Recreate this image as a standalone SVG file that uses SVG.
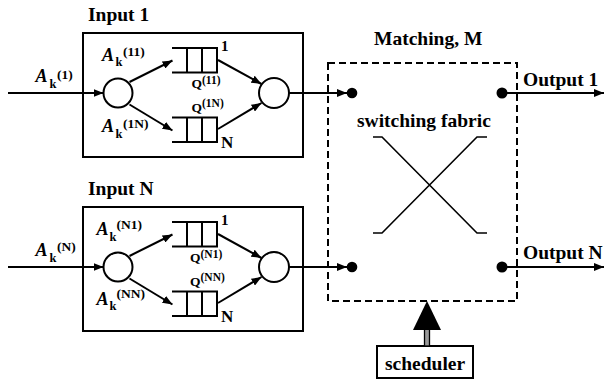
<svg xmlns="http://www.w3.org/2000/svg" width="604" height="383" viewBox="0 0 604 383">
<defs>
<style>
text{font-family:"Liberation Serif","Times New Roman",serif;font-weight:bold;fill:#000}
.t{font-size:19.5px}
.a{font-size:18px;font-style:italic}
.k{font-size:12.5px}
.s{font-size:13.5px}
.q{font-size:13.5px}
.qs{font-size:11.5px}
.n1{font-size:15px}
.nn{font-size:17px}
.box{fill:none;stroke:#000;stroke-width:2}
.ln{fill:none;stroke:#000;stroke-width:2}
.circ{fill:#fff;stroke:#000;stroke-width:2}
.dash{fill:none;stroke:#000;stroke-width:2;stroke-dasharray:7 4}
.arr{fill:none;stroke:#000;stroke-width:2;marker-end:url(#ah)}
</style>
<marker id="ah" viewBox="0 0 10 8" refX="10" refY="4" markerWidth="10" markerHeight="8" markerUnits="userSpaceOnUse" orient="auto">
<path d="M0,0 L10,4 L0,8 z" fill="#000"/>
</marker>
<g id="queue">
<path class="ln" d="M172,48 H218 M172,72.5 H218 M187,48 V72.5 M202,48 V72.5 M217,48 V72.5"/>
</g>
</defs>
<rect width="604" height="383" fill="#fff"/>

<g id="input1">
<text class="t" x="88" y="21">Input 1</text>
<rect class="box" x="83" y="33" width="220" height="124"/>
<circle class="circ" cx="118" cy="93" r="14.5"/>
<circle class="circ" cx="274" cy="93" r="15"/>
<use href="#queue"/>
<use href="#queue" y="69.5"/>
<text class="n1" x="221" y="50.5">1</text>
<text class="nn" x="221" y="148">N</text>
<text><tspan class="a" x="102" y="60.5">A</tspan><tspan class="k" x="115.5" y="65.5">k</tspan><tspan class="s" x="123" y="55.5">(11)</tspan></text>
<text><tspan class="a" x="102" y="131.5">A</tspan><tspan class="k" x="115.5" y="137.5">k</tspan><tspan class="s" x="123" y="128">(1N)</tspan></text>
<text><tspan class="q" x="191.5" y="88">Q</tspan><tspan class="qs" x="202" y="83.5">(11)</tspan></text>
<text><tspan class="q" x="191.5" y="111.5">Q</tspan><tspan class="qs" x="202" y="107">(1N)</tspan></text>
</g>

<g id="inputN">
<text class="t" x="88" y="195">Input N</text>
<rect class="box" x="83" y="207" width="220" height="124"/>
<circle class="circ" cx="118" cy="267" r="14.5"/>
<circle class="circ" cx="274" cy="267" r="15"/>
<use href="#queue" y="174"/>
<use href="#queue" y="243.5"/>
<text class="n1" x="221" y="224.5">1</text>
<text class="nn" x="221" y="322">N</text>
<text><tspan class="a" x="96.5" y="235">A</tspan><tspan class="k" x="109.5" y="240.5">k</tspan><tspan class="s" x="116.5" y="228.5">(N1)</tspan></text>
<text><tspan class="a" x="96.5" y="304.5">A</tspan><tspan class="k" x="109.5" y="310">k</tspan><tspan class="s" x="116.5" y="297.5">(NN)</tspan></text>
<text><tspan class="q" x="190" y="262">Q</tspan><tspan class="qs" x="200.5" y="257.5">(N1)</tspan></text>
<text><tspan class="q" x="190" y="285.5">Q</tspan><tspan class="qs" x="200.5" y="281">(NN)</tspan></text>
</g>

<g id="matching">
<text class="t" x="374" y="45">Matching, M</text>
<rect class="dash" x="328" y="63" width="189" height="238"/>
<text class="t" x="357" y="127">switching fabric</text>
<path class="ln" d="M373,137 H382 L477,233 H487 M373,233 H382 L477,137 H487" style="stroke-width:1.6"/>
<circle cx="352" cy="93" r="5.3" fill="#000"/>
<circle cx="502" cy="93" r="5.5" fill="#000"/>
<circle cx="352" cy="267" r="5.3" fill="#000"/>
<circle cx="502" cy="267" r="5.5" fill="#000"/>
<text class="t" x="523" y="85.5">Output 1</text>
<text class="t" x="523" y="259">Output N</text>
</g>

<g id="scheduler">
<rect class="box" x="377" y="346" width="96" height="32"/>
<text class="t" x="385" y="369.5">scheduler</text>
</g>

<g id="inputlabels">
<text><tspan class="a" x="35.5" y="82">A</tspan><tspan class="k" x="49.5" y="88">k</tspan><tspan class="s" x="57" y="79">(1)</tspan></text>
<text><tspan class="a" x="35.5" y="255.5">A</tspan><tspan class="k" x="49.5" y="261.5">k</tspan><tspan class="s" x="57" y="251">(N)</tspan></text>
</g>

<g id="connectors">
<line class="arr" x1="8" y1="93" x2="103.5" y2="93"/>
<line class="arr" x1="129.5" y1="82" x2="172.5" y2="60.5"/>
<line class="arr" x1="129.5" y1="104.5" x2="172.5" y2="130.5"/>
<line class="arr" x1="218" y1="60" x2="261.5" y2="84"/>
<line class="arr" x1="218" y1="129" x2="261.5" y2="103"/>
<line class="arr" x1="289" y1="93" x2="347" y2="93"/>
<line class="arr" x1="502" y1="93" x2="604" y2="93"/>

<line class="arr" x1="8" y1="267" x2="103.5" y2="267"/>
<line class="arr" x1="129.5" y1="256" x2="172.5" y2="234.5"/>
<line class="arr" x1="129.5" y1="278.5" x2="172.5" y2="304.5"/>
<line class="arr" x1="218" y1="234" x2="261.5" y2="258"/>
<line class="arr" x1="218" y1="303" x2="261.5" y2="277"/>
<line class="arr" x1="289" y1="267" x2="347" y2="267"/>
<line class="arr" x1="502" y1="267" x2="604" y2="267"/>

<rect x="424.5" y="329" width="5" height="17" fill="#999" stroke="#000" stroke-width="1.3"/>
<path d="M427,301 L441,330 L413,330 z" fill="#000"/>
</g>
</svg>
